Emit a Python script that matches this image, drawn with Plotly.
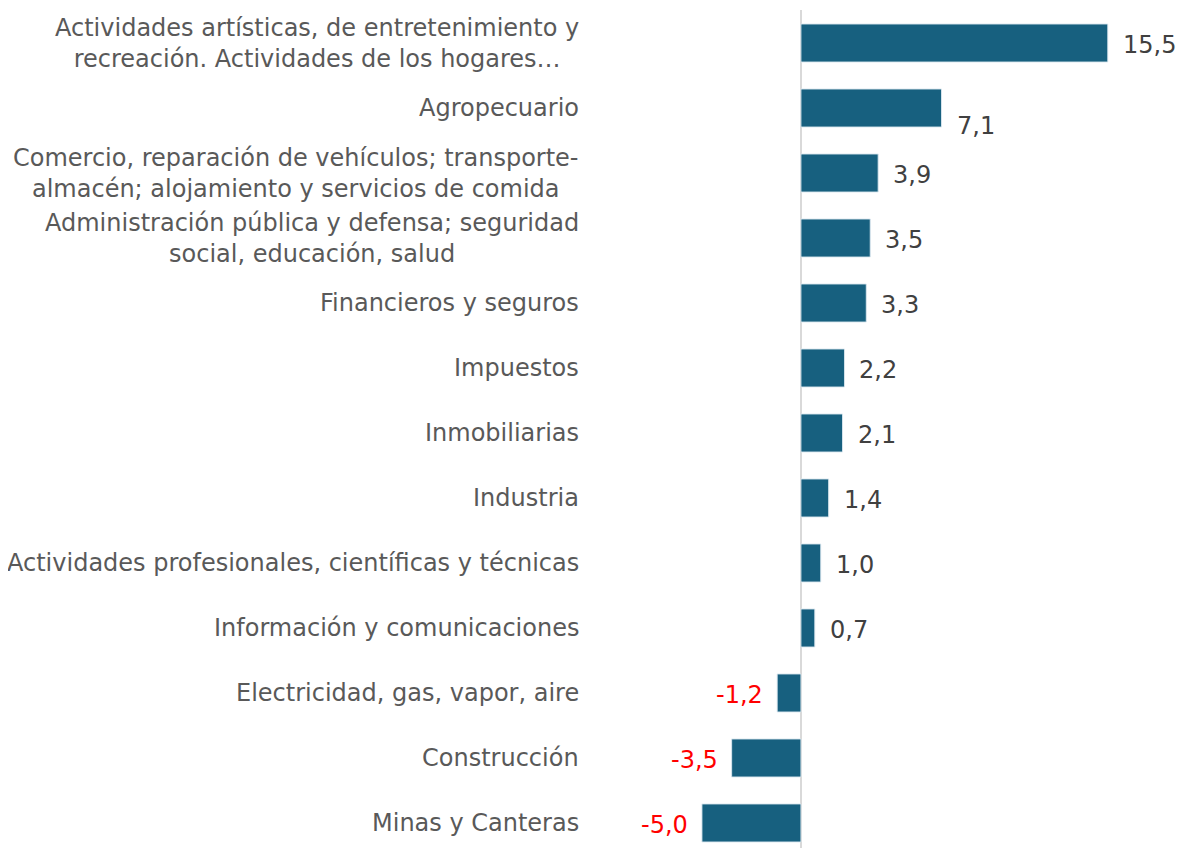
import plotly.graph_objects as go

categories = [
    "Actividades artísticas, de entretenimiento y<br>recreación. Actividades de los hogares…",
    "Agropecuario",
    "Comercio, reparación de vehículos; transporte-<br>almacén; alojamiento y servicios de comida",
    "Administración pública y defensa; seguridad<br>social, educación, salud",
    "Financieros y seguros",
    "Impuestos",
    "Inmobiliarias",
    "Industria",
    "Actividades profesionales, científicas y técnicas",
    "Información y comunicaciones",
    "Electricidad, gas, vapor, aire",
    "Construcción",
    "Minas y Canteras",
]
values = [15.5, 7.1, 3.9, 3.5, 3.3, 2.2, 2.1, 1.4, 1.0, 0.7, -1.2, -3.5, -5.0]
value_labels = [f"{v:.1f}".replace(".", ",") for v in values]

BAR_COLOR = "#17607F"
CAT_COLOR = "#595959"
VAL_COLOR = "#404040"
NEG_COLOR = "#FF0000"
FONT = "DejaVu Sans, Verdana, sans-serif"

idx = list(range(len(categories)))

fig = go.Figure(go.Bar(
    x=values, y=idx, orientation="h", width=0.585,
    marker=dict(color=BAR_COLOR, line=dict(color="rgba(220,232,240,0.9)", width=1)),
    hoverinfo="skip",
))

label_yshift = {1: -18}
annotations = []
for i, (cat, v, lab) in enumerate(zip(categories, values, value_labels)):
    annotations.append(dict(
        x=0, xref="paper", y=i, yref="y", text=cat, showarrow=False,
        xanchor="right", yanchor="middle", align="center", xshift=-19,
        font=dict(family=FONT, size=24, color=CAT_COLOR),
    ))
    pos = v >= 0
    annotations.append(dict(
        x=v, xref="x", y=i, yref="y", text=lab, showarrow=False,
        xanchor="left" if pos else "right", yanchor="middle",
        xshift=13 if pos else -12, yshift=label_yshift.get(i, -2),
        font=dict(family=FONT, size=24, color=VAL_COLOR if pos else NEG_COLOR),
    ))

fig.update_layout(
    width=1177, height=840,
    margin=dict(l=592, r=0, t=2, b=0),
    paper_bgcolor="white", plot_bgcolor="white",
    showlegend=False,
    annotations=annotations,
    xaxis=dict(range=[-10.15, 19.4], showgrid=False, showticklabels=False,
               zeroline=True, zerolinecolor="#d9d9d9", zerolinewidth=2, ticks=""),
    yaxis=dict(range=[12.385, -0.508], showgrid=False, showticklabels=False,
               zeroline=False, ticks=""),
)

fig.write_html("out.html")
